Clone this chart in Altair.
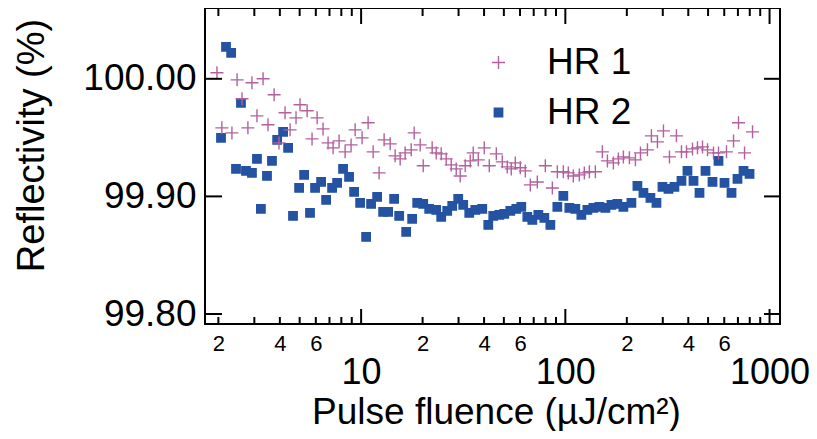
import altair as alt
import pandas as pd

# ---- data ----
series_names = ["HR 1", "HR 2"]

hr1_fluence = [1.968, 2.08, 2.33, 2.47, 2.61, 2.79, 2.92, 3.09, 3.31, 3.50, 3.75, 3.96, 4.24, 4.49,
               4.80, 5.02, 5.44, 5.75, 6.09, 6.51, 6.89, 7.29, 7.80, 8.35, 8.93, 9.35, 10.11, 10.82,
               11.45, 12.25, 12.96, 13.88, 14.68,
               15.53, 16.43, 17.59, 18.19, 19.47, 20.14, 22.28, 23.32, 24.67, 26.10,
               27.62, 29.22, 30.57, 32.34, 34.22, 35.40, 37.46, 40.09, 42.42, 45.91,
               49.11, 51.96, 54.36, 56.88, 60.17, 63.67, 67.37, 72.91, 79.80, 86.38,
               91.37, 97.77, 103.4, 109.4, 117.1, 123.9, 131.1, 140.3, 151.8, 160.7,
               171.9, 181.9, 192.4, 205.9, 220.4, 233.2, 252.4, 264.0, 282.5, 302.3,
               323.5, 350.0, 370.4, 391.9, 419.4, 443.7, 469.5, 496.9, 531.6, 562.3,
               615.4, 666.2, 704.7, 754.3, 825.4]
hr1_refl = [100.0051, 99.9583, 99.9540, 99.9991, 99.9830, 99.9583, 99.9966, 99.9685, 100.0000,
            99.9609, 99.9864, 99.9455, 99.9711, 99.9566, 99.9668, 99.9779, 99.9728, 99.9489,
            99.9668, 99.9574, 99.9455, 99.9413, 99.9472, 99.9379, 99.9438, 99.9566, 99.9498,
            99.9626, 99.9379, 99.9200, 99.9481, 99.9447, 99.9345,
            99.9319, 99.9370, 99.9396, 99.9540, 99.9438, 99.9260, 99.9413, 99.9370, 99.9362, 99.9319,
            99.9268, 99.9234, 99.9174, 99.9260, 99.9302, 99.9370, 99.9311, 99.9413, 99.9260, 99.9362,
            99.9294, 99.9251, 99.9234, 99.9285, 99.9243, 99.9217, 99.9098, 99.9123, 99.9260, 99.9072,
            99.9209, 99.9209, 99.9200, 99.9174, 99.9183, 99.9200, 99.9209, 99.9209, 99.9379, 99.9302,
            99.9285, 99.9319, 99.9336, 99.9328, 99.9311, 99.9370, 99.9396, 99.9515, 99.9464, 99.9557,
            99.9336, 99.9515, 99.9379, 99.9379, 99.9404, 99.9413, 99.9421, 99.9396, 99.9370, 99.9370,
            99.9379, 99.9472, 99.9626, 99.9370, 99.9549]

hr2_fluence = [2.06, 2.18, 2.31, 2.44, 2.58, 2.73, 2.92, 3.09, 3.23, 3.46, 3.66, 3.88, 4.15, 4.39,
               4.64, 4.97, 5.26, 5.62, 5.95, 6.37, 6.74, 7.21, 7.63, 8.16, 8.73, 9.24, 9.89, 10.58,
               11.19, 11.98, 12.82, 13.56, 14.51, 15.36,
               16.62, 17.78, 18.82, 20.14, 21.54, 23.32, 24.67, 26.40, 27.94, 29.89, 31.62, 33.84,
               36.22, 39.19, 41.94, 44.37, 47.49, 50.23, 53.76, 57.53, 60.86, 65.13, 68.91, 73.75,
               78.91, 84.45, 91.37, 97.77, 104.6, 111.9, 119.8,
               128.2, 137.2, 146.8, 157.1, 168.1, 179.8, 192.4, 210.6, 225.4, 241.2, 261.0, 279.4,
               298.9, 319.9, 342.2, 370.4, 396.3, 424.2, 453.9, 485.7, 525.6, 562.3, 601.7, 651.3,
               696.6, 745.6, 798.0]
hr2_refl = [99.9498, 100.0272, 100.0221, 99.9234, 99.9796, 99.9217, 99.9200, 99.9319, 99.8894,
            99.9174, 99.9302, 99.9481, 99.9549, 99.9413, 99.8834, 99.9072, 99.9183, 99.8860,
            99.9072, 99.9123, 99.8970, 99.9072, 99.9115, 99.9234, 99.9166, 99.9038, 99.8945,
            99.8655, 99.8936, 99.8996, 99.8868, 99.8868, 99.8979, 99.8834,
            99.8698, 99.8809, 99.8945, 99.8936, 99.8894, 99.8885, 99.8826, 99.8877, 99.8919,
            99.8979, 99.8928, 99.8860, 99.8885, 99.8894, 99.8757, 99.8834, 99.8843, 99.8851,
            99.8877, 99.8894, 99.8911, 99.8826, 99.8800, 99.8843, 99.8817, 99.8757, 99.8911,
            99.9004, 99.8902, 99.8894, 99.8843,
            99.8885, 99.8902, 99.8911, 99.8902, 99.8928, 99.8936, 99.8911, 99.8945, 99.9089,
            99.9030, 99.8987, 99.8945, 99.9081, 99.9064, 99.9081, 99.9132, 99.9217, 99.9132,
            99.9030, 99.9217, 99.9123, 99.9302, 99.9115, 99.9030, 99.9149, 99.9217, 99.9191]

minor_ticks = [2, 3, 4, 5, 6, 7, 8, 9, 20, 30, 40, 50, 60, 70, 80, 90,
               200, 300, 400, 500, 600, 700, 800, 900]
major_ticks = [10, 100, 1000]
x_label_values = [2, 4, 6, 10, 20, 40, 60, 100, 200, 400, 600, 1000]
y_ticks = [99.80, 99.90, 100.00]

x_domain = [1.72, 1125]
y_domain = [99.7915, 100.0602]

PINK = "#b3619e"
BLUE = "#2553a3"
PLUS = "M-1,0H1M0,-1V1"
FONT = "Liberation Sans"

df = pd.concat([
    pd.DataFrame({"F": hr2_fluence, "R": hr2_refl, "series": "HR 2"}),
    pd.DataFrame({"F": hr1_fluence, "R": hr1_refl, "series": "HR 1"}),
], ignore_index=True)

W, H = 575, 316
xscale = alt.Scale(type="log", domain=x_domain, nice=False)
yscale = alt.Scale(domain=y_domain, nice=False, zero=False)

major_test = "indexof([10,100,1000], datum.value) >= 0"

x_axis = alt.Axis(
    values=x_label_values, format="d",
    labelExpr=f"{major_test} ? datum.label : substring(datum.label, 0, 1)",
    labelFontSize={"condition": {"test": major_test, "value": 36}, "value": 22},
    labelPadding={"condition": {"test": major_test, "value": 31}, "value": 9},
    ticks=False, domain=False, grid=False, labelOverlap=False, labelFlush=False,
    labelColor="black", labelFont=FONT,
    title="Pulse fluence (µJ/cm²)", titleFontSize=37, titleFontWeight="normal",
    titleFont=FONT, titleColor="black",
    titleX=291, titleY=99, titleBaseline="alphabetic", titleAlign="center",
)
y_axis = alt.Axis(
    values=y_ticks, format=".2f", labelFontSize=37, labelPadding=9,
    ticks=False, domain=False, grid=False, labelOverlap=False, labelFlush=False,
    labelColor="black", labelFont=FONT,
    title="Reflectivity (%)", titleFontSize=38, titleFontWeight="normal",
    titleFont=FONT, titleColor="black",
    titleX=-162, titleY=137, titleAlign="center", titleBaseline="alphabetic",
)

legend = alt.Legend(
    title=None, orient="none", legendX=275, legendY=36,
    labelFontSize=37, labelFont=FONT, labelColor="black",
    labelOffset=30, rowPadding=12, symbolStrokeWidth=1.4,
)

points = alt.Chart(df).mark_point(filled=False, strokeWidth=1.4, opacity=1).encode(
    x=alt.X("F:Q", scale=xscale, axis=x_axis),
    y=alt.Y("R:Q", scale=yscale, axis=y_axis),
    color=alt.Color("series:N", scale=alt.Scale(domain=series_names, range=[PINK, BLUE]), legend=legend),
    fill=alt.Fill("series:N", scale=alt.Scale(domain=series_names, range=["transparent", BLUE]), legend=legend),
    shape=alt.Shape("series:N", scale=alt.Scale(domain=series_names, range=[PLUS, "square"]), legend=legend),
    size=alt.Size("series:N", scale=alt.Scale(domain=series_names, range=[169, 70]), legend=legend),
)

def xticks(values, y0, y1):
    return alt.Chart(pd.DataFrame({"F": values})).mark_rule(color="black", strokeWidth=2).encode(
        x=alt.X("F:Q", scale=xscale),
        y=alt.value(y0), y2=alt.value(y1),
    )

def yticks(x0, x1):
    return alt.Chart(pd.DataFrame({"R": y_ticks})).mark_rule(color="black", strokeWidth=2).encode(
        y=alt.Y("R:Q", scale=yscale),
        x=alt.value(x0), x2=alt.value(x1),
    )

chart = alt.layer(
    points,
    xticks(minor_ticks, H, H - 7),
    xticks(minor_ticks, 0, 8),
    xticks(major_ticks, H, H - 15),
    xticks(major_ticks, 0, 16),
    yticks(0, 17),
    yticks(W - 16, W),
).properties(
    width=W, height=H,
    padding={"left": 197, "top": 0, "right": 29, "bottom": 107},
    autosize=alt.AutoSizeParams(type="none"),
).configure(
    font=FONT
).configure_view(
    stroke="black", strokeWidth=2
)

chart.save("out.html", embed_options={"renderer": "svg", "actions": False})
